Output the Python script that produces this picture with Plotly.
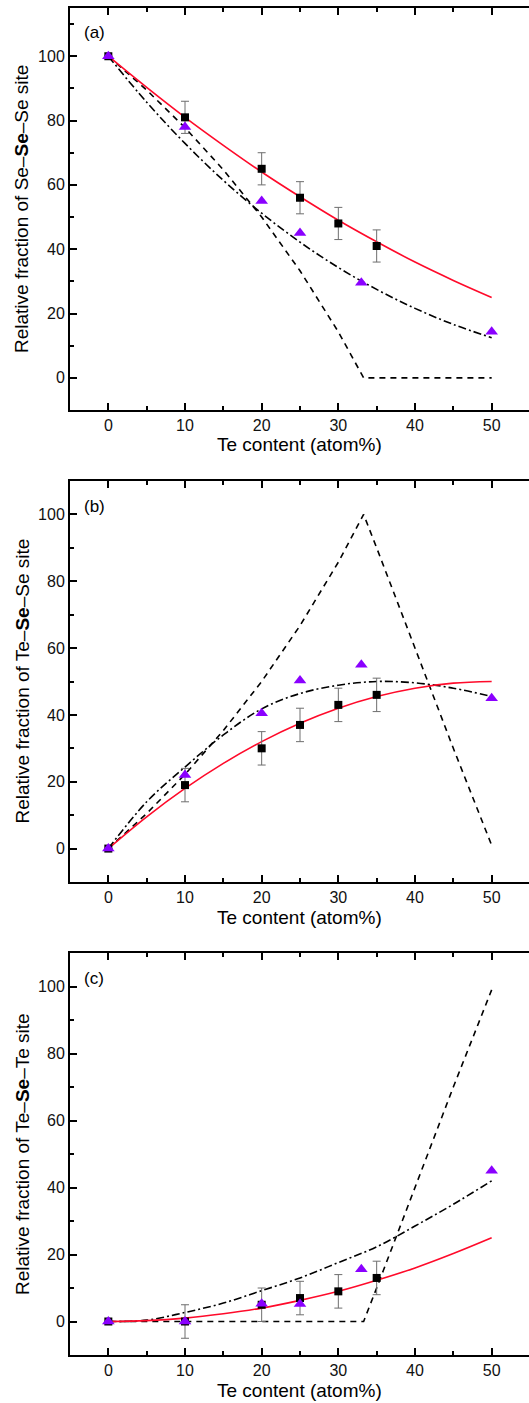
import plotly.graph_objects as go

# ---------------- data ----------------
te_exp = [0, 10, 20, 25, 30, 35]
sss_exp = [100, 81, 65, 56, 48, 41]
tss_exp = [0, 19, 30, 37, 43, 46]
tst_exp = [0, 0, 5, 7, 9, 13]
exp_err = [0, 5, 5, 5, 5, 5]

te_sim = [0, 10, 20, 25, 33, 50]
sss_sim = [100, 78, 55, 45, 29.6, 14.3]
tss_sim = [0, 22, 40.5, 50.3, 55, 45]
tst_sim = [0, 0, 5.3, 5.2, 15.6, 45]

te_model = [0, 5, 10, 15, 20, 25, 30, 35, 40, 45, 50]
sss_random = [100, 90.3, 81, 72.3, 64, 56.3, 49, 42.3, 36, 30.3, 25]
tss_random = [0, 9.5, 18, 25.5, 32, 37.5, 42, 45.5, 48, 49.5, 50]
tst_random = [0, 0.25, 1, 2.3, 4, 6.3, 9, 12.3, 16, 20.3, 25]

sss_chain = [100, 85.7, 72.9, 61.4, 51.2, 42.2, 34.3, 27.5, 21.6, 16.6, 12.5]
tss_chain = [0, 14, 24.4, 34, 41.8, 46.4, 48.9, 50, 49.6, 48, 45.5]
tst_chain = [0, 0.4, 2.7, 5.5, 9.2, 13, 17.6, 22.3, 28.5, 35, 42]

te_order = [0, 5, 10, 15, 20, 25, 30, 32, 33.3, 35, 40, 45, 50]
sss_order = [100, 89.5, 77.8, 64.7, 50, 33.3, 14.3, 5.9, 0, 0, 0, 0, 0]
tss_order = [0, 10.5, 22.2, 35.3, 50, 66.7, 85.7, 94.1, 100, 90, 60, 30, 1]
tst_order = [0, 0, 0, 0, 0, 0, 0, 0, 0, 10, 40, 70, 99]

panel_labels = ["(a)", "(b)", "(c)"]
y_titles = ["Relative fraction of Se\u2013<b>Se</b>\u2013Se site",
            "Relative fraction of Te\u2013<b>Se</b>\u2013Se site",
            "Relative fraction of Te\u2013<b>Se</b>\u2013Te site"]
x_title = "Te content (atom%)"
y_ranges = [[-10, 115], [-10, 110], [-10, 110]]

exp_sets = [sss_exp, tss_exp, tst_exp]
sim_sets = [sss_sim, tss_sim, tst_sim]
random_sets = [sss_random, tss_random, tst_random]
chain_sets = [sss_chain, tss_chain, tst_chain]
order_sets = [sss_order, tss_order, tst_order]

# ---------------- figure ----------------
W, H = 529, 1403
L = 70
panel_px = [(8, 410), (481, 882), (953, 1355)]  # top, bottom pixel rows
FONT = "Liberation Sans, Arial, sans-serif"

fig = go.Figure()
for i in range(3):
    n = "" if i == 0 else str(i + 1)
    xa, ya = "x" + n, "y" + n
    fig.add_trace(go.Scatter(x=te_order, y=order_sets[i], mode="lines", xaxis=xa, yaxis=ya,
                             line=dict(color="black", width=1.6, dash="6px,5px"), showlegend=False))
    fig.add_trace(go.Scatter(x=te_model, y=chain_sets[i], mode="lines", xaxis=xa, yaxis=ya,
                             line=dict(color="black", width=1.6, dash="8px,3px,2px,3px", shape="spline"),
                             showlegend=False))
    fig.add_trace(go.Scatter(x=te_model, y=random_sets[i], mode="lines", xaxis=xa, yaxis=ya,
                             line=dict(color="#ff0a2a", width=1.6, shape="spline"), showlegend=False))
    fig.add_trace(go.Scatter(x=te_exp, y=exp_sets[i], mode="markers", xaxis=xa, yaxis=ya,
                             marker=dict(symbol="square", size=8, color="black"),
                             error_y=dict(type="data", array=exp_err, color="#6e6e6e", thickness=1, width=4),
                             showlegend=False))
    fig.add_trace(go.Scatter(x=te_sim, y=sim_sets[i], mode="markers", xaxis=xa, yaxis=ya,
                             marker=dict(symbol="triangle-up", size=11, color="#8a00ff"),
                             showlegend=False))

layout = dict(width=W, height=H, margin=dict(l=L, r=0, t=0, b=0),
              paper_bgcolor="white", plot_bgcolor="white",
              font=dict(family=FONT, color="black", size=16))
annotations = []
for i in range(3):
    n = "" if i == 0 else str(i + 1)
    top, bot = panel_px[i]
    ph = bot - top
    dom = [(H - bot) / H, (H - top) / H]
    layout["xaxis" + n] = dict(
        domain=[0, 1], anchor="y" + n, range=[-5, 54.87],
        tickvals=[0, 10, 20, 30, 40, 50], ticks="inside", ticklen=7, tickwidth=1.5,
        tickcolor="black", showline=True, linecolor="black", linewidth=2, mirror="ticks",
        showgrid=False, zeroline=False, tickfont=dict(size=16, family=FONT, color="#111"),
        minor=dict(tickvals=[5, 15, 25, 35, 45], ticks="inside", ticklen=4, tickwidth=1.5, tickcolor="black"),
        automargin=False)
    layout["yaxis" + n] = dict(
        domain=dom, anchor="x" + n, range=y_ranges[i],
        tickvals=[0, 20, 40, 60, 80, 100], ticks="inside", ticklen=7, tickwidth=1.5,
        tickcolor="black", showline=True, linecolor="black", linewidth=2, mirror=False,
        showgrid=False, zeroline=False, tickfont=dict(size=16, family=FONT, color="#111"),
        minor=dict(tickvals=[-10, 10, 30, 50, 70, 90, 110], ticks="inside", ticklen=4, tickwidth=1.5,
                   tickcolor="black"),
        automargin=False)
    annotations.append(dict(text=x_title, xref=("x" + n + " domain"), yref=("y" + n + " domain"),
                            x=0.5, y=-(445 - 410) / ph, xanchor="center", yanchor="middle",
                            showarrow=False, font=dict(size=19, family=FONT)))
    annotations.append(dict(text=y_titles[i], xref=("x" + n + " domain"), yref=("y" + n + " domain"),
                            x=(22 - L) / (W - L), y=0.5, xanchor="center", yanchor="middle",
                            textangle=-90, showarrow=False, font=dict(size=19, family=FONT)))
    annotations.append(dict(text=panel_labels[i], xref=("x" + n + " domain"), yref=("y" + n + " domain"),
                            x=(82 - L) / (W - L), y=(ph - 25) / ph,
                            xanchor="left", yanchor="middle",
                            showarrow=False, font=dict(size=17, family=FONT)))
layout["annotations"] = annotations
fig.update_layout(**layout)
fig.write_html("out.html")
